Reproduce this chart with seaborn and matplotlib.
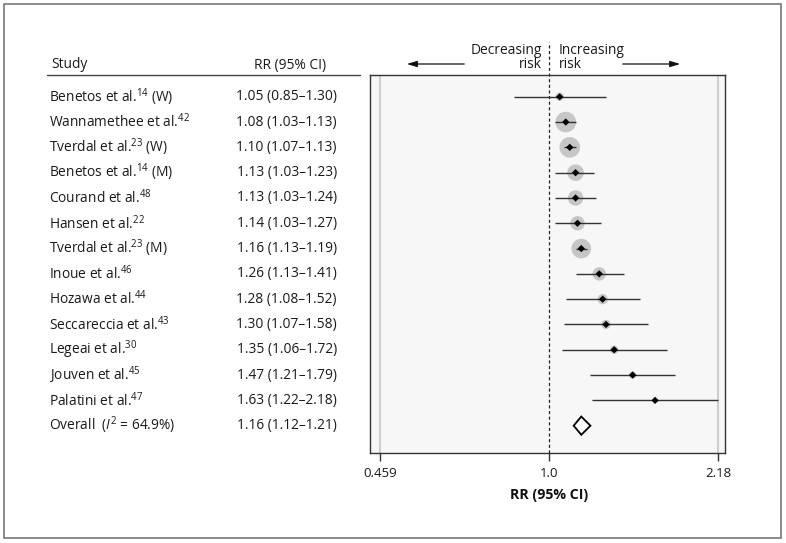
import matplotlib
matplotlib.use("Agg")
import matplotlib.pyplot as plt
import matplotlib.transforms as mtransforms
from matplotlib.patches import Rectangle, Polygon
import numpy as np
import pandas as pd
import seaborn as sns

# ---------------- data ----------------
studies = [
    r"Benetos et al.$^{14}$ (W)",
    r"Wannamethee et al.$^{42}$",
    r"Tverdal et al.$^{23}$ (W)",
    r"Benetos et al.$^{14}$ (M)",
    r"Courand et al.$^{48}$",
    r"Hansen et al.$^{22}$",
    r"Tverdal et al.$^{23}$ (M)",
    r"Inoue et al.$^{46}$",
    r"Hozawa et al.$^{44}$",
    r"Seccareccia et al.$^{43}$",
    r"Legeai et al.$^{30}$",
    r"Jouven et al.$^{45}$",
    r"Palatini et al.$^{47}$",
]
rr = [1.05, 1.08, 1.10, 1.13, 1.13, 1.14, 1.16, 1.26, 1.28, 1.30, 1.35, 1.47, 1.63]
lo = [0.85, 1.03, 1.07, 1.03, 1.03, 1.03, 1.13, 1.13, 1.08, 1.07, 1.06, 1.21, 1.22]
hi = [1.30, 1.13, 1.13, 1.23, 1.24, 1.27, 1.19, 1.41, 1.52, 1.58, 1.72, 1.79, 2.18]
weights = [2.7, 16.8, 16.8, 10.8, 9.4, 8.2, 15.2, 7.1, 4.2, 3.4, 2.7, 2.1, 0.7]

overall_label = r"Overall  ($I^{2}$ = 64.9%)"
overall_rr, overall_lo, overall_hi = 1.16, 1.12, 1.21

xticks = [0.459, 1.0, 2.18]
xtick_labels = ["0.459", "1.0", "2.18"]

# ---------------- style ----------------
sns.set_style("white")
FONT = "Open Sans"
plt.rcParams["font.family"] = [FONT, "DejaVu Sans"]
plt.rcParams["mathtext.fontset"] = "custom"
plt.rcParams["mathtext.rm"] = FONT
plt.rcParams["mathtext.it"] = FONT + ":italic"
plt.rcParams["mathtext.bf"] = FONT + ":bold"
FS = 9.9
TXT = "#1a1a1a"

W, H = 786, 543
fig = plt.figure(figsize=(W / 100, H / 100), dpi=100)
fig.patch.set_facecolor("white")

def fx(px):
    return px / W

def fy(py):
    return 1 - py / H

ax_left, ax_right, ax_top, ax_bot = 370, 725, 75, 453
ax = fig.add_axes([fx(ax_left), fy(ax_bot), fx(ax_right - ax_left), (ax_bot - ax_top) / H])
ax.set_facecolor("#f6f7f6")

df = pd.DataFrame({"study": studies, "rr": rr, "lo": lo, "hi": hi, "w": weights})
df["row"] = np.arange(1, len(df) + 1)
overall_row = len(df) + 1

ax.set_xscale("log")
ax.set_xlim(0.438, 2.25)
ax.set_ylim(overall_row + 1.08, 1 - 0.86)

# light reference lines at range ends
for v in (xticks[0], xticks[-1]):
    ax.axvline(v, color="#cfcfcf", lw=1.5, zorder=1)

# null line, dashed, extending above axes
trans_xa = mtransforms.blended_transform_factory(ax.transData, ax.transAxes)
ax.plot([1.0, 1.0], [0, (ax_bot - 42) / (ax_bot - ax_top)], transform=trans_xa,
        color="#222222", lw=0.9, ls=(0, (2.5, 2)), clip_on=False, zorder=2)

# weight circles
sns.scatterplot(data=df, x="rr", y="row", size="w", sizes=(0, 220),
                size_norm=(0, max(weights)), color="#c6c6c6", edgecolor="none",
                legend=False, ax=ax, zorder=3)
# CI lines
ax.hlines(df["row"], df["lo"], df["hi"], color="#333333", lw=1.0, zorder=4)
# point estimates
sns.scatterplot(data=df, x="rr", y="row", marker="D", s=14, color="black",
                edgecolor="none", legend=False, ax=ax, zorder=5)

# overall diamond
dh = 0.36
diamond = Polygon([(overall_lo, overall_row), (overall_rr, overall_row - dh),
                   (overall_hi, overall_row), (overall_rr, overall_row + dh)],
                  closed=True, facecolor="white", edgecolor="black", lw=1.3, zorder=5)
ax.add_patch(diamond)

ax.set_yticks([])
ax.set_xticks(xticks)
ax.set_xticklabels(xtick_labels)
ax.xaxis.set_minor_locator(matplotlib.ticker.NullLocator())
ax.tick_params(axis="x", which="major", bottom=True, length=6, width=1.0,
               color="#333333", pad=4, labelsize=9.5, labelcolor=TXT)
ax.set_xlabel("")
ax.set_ylabel("")
for sp in ax.spines.values():
    sp.set_visible(True)
    sp.set_color("#333333")
    sp.set_linewidth(1.0)

# x label
fig.text(fx(549), fy(495), "RR (95% CI)", ha="center", va="center",
         fontsize=10.2, fontweight="bold", color="#111111")

# direction annotations
fig.text(fx(542), fy(50), "Decreasing", ha="right", va="center", fontsize=FS, color=TXT)
fig.text(fx(542), fy(65), "risk", ha="right", va="center", fontsize=FS, color=TXT)
fig.text(fx(559), fy(50), "Increasing", ha="left", va="center", fontsize=FS, color=TXT)
fig.text(fx(559), fy(65), "risk", ha="left", va="center", fontsize=FS, color=TXT)
arrow_kw = dict(arrowstyle="-|>,head_length=0.6,head_width=0.18", color="#111111", lw=0.9)
fig.add_artist(matplotlib.patches.FancyArrowPatch((fx(467), fy(64)), (fx(404), fy(64)),
               transform=fig.transFigure, mutation_scale=10, **arrow_kw))
fig.add_artist(matplotlib.patches.FancyArrowPatch((fx(620), fy(64)), (fx(683), fy(64)),
               transform=fig.transFigure, mutation_scale=10, **arrow_kw))

# left table
trans_fd = mtransforms.blended_transform_factory(fig.transFigure, ax.transData)
fig.text(fx(51), fy(65), "Study", ha="left", va="center", fontsize=FS, color=TXT)
fig.text(fx(290), fy(65), "RR (95% CI)", ha="center", va="center", fontsize=FS, color=TXT)
fig.add_artist(plt.Line2D([fx(47), fx(360)], [fy(75), fy(75)], transform=fig.transFigure,
                          color="#444444", lw=1.0))

fmt = lambda r, l, h: f"{r:.2f} ({l:.2f}\u2013{h:.2f})"
for s, r, l, h, row in zip(df["study"], df["rr"], df["lo"], df["hi"], df["row"]):
    ax.text(fx(49), row, s, transform=trans_fd, ha="left", va="center",
            fontsize=FS, color=TXT)
    ax.text(fx(337), row, fmt(r, l, h), transform=trans_fd, ha="right", va="center",
            fontsize=FS, color=TXT)
ax.text(fx(49), overall_row, overall_label, transform=trans_fd, ha="left", va="center",
        fontsize=FS, color=TXT)
ax.text(fx(337), overall_row, fmt(overall_rr, overall_lo, overall_hi), transform=trans_fd,
        ha="right", va="center", fontsize=FS, color=TXT)

# outer frame
fig.add_artist(Rectangle((fx(4), fy(538)), fx(777), (538 - 4) / H, transform=fig.transFigure,
                         fill=False, edgecolor="#777777", lw=1.2))

fig.savefig("out.png", dpi=100)
